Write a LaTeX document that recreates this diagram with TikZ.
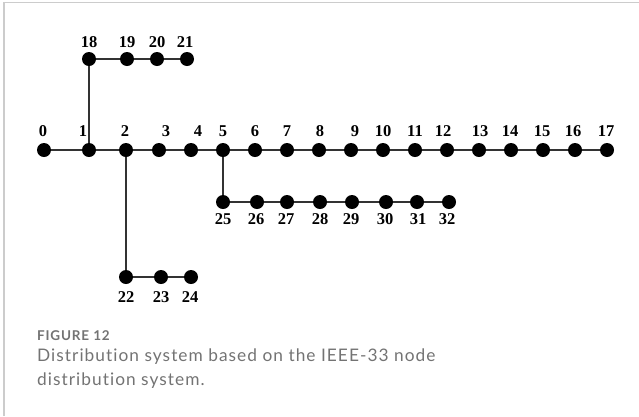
\documentclass[tikz,border=0pt]{standalone}
\usepackage{fontspec}
\setmainfont{Liberation Serif}
\newfontfamily\capfont[LetterSpace=6,Ligatures=NoCommon]{Lato}
\begin{document}
\begin{tikzpicture}[x=1pt,y=-1pt,
  bus/.style={circle,fill=black,inner sep=0pt,minimum size=14pt},
  tag/.style={anchor=base,inner sep=0pt,font=\fontsize{16.5}{17}\selectfont\bfseries},
  line/.style={draw=black!80,line width=1.5pt},
  frameline/.style={draw=black!20,line width=1.2pt},
  captext/.style={anchor=base west,inner sep=0pt,text=black!55}]
\useasboundingbox (0,0) rectangle (639,416);
% card frame
\coordinate (fa) at (4,416);
\coordinate (fb) at (4,2.5);
\coordinate (fc) at (639,2.5);
\draw[frameline] (fa) -- (fb) -- (fc);
% main feeder 0-17
\foreach \n/\x/\lx in {0/44/43,1/89/83,2/126/125,3/159/166,4/191/198,5/223/223,6/255/255,7/287/287,8/319/320,9/351/355,10/383/383,11/415/415,12/447/443,13/479/480,14/511/510,15/543/542,16/575/573,17/607/606}{
  \node[bus] (b\n) at (\x,150) {};
  \node[tag] (l\n) at (\lx,136.5) {\n};
}
% lateral 18-21
\foreach \n/\x/\lx in {18/89/89,19/127/127,20/157/157,21/187/185}{
  \node[bus] (b\n) at (\x,59) {};
  \node[tag] (l\n) at (\lx,47.5) {\n};
}
% lateral 22-24
\foreach \n/\x/\lx in {22/126/126,23/161/161,24/191/190}{
  \node[bus] (b\n) at (\x,277) {};
  \node[tag] (l\n) at (\lx,302.5) {\n};
}
% lateral 25-32
\foreach \n/\x/\lx in {25/223/223,26/257/256,27/287/286,28/320/320,29/352/351,30/386/385,31/417/418,32/449/447}{
  \node[bus] (b\n) at (\x,202) {};
  \node[tag] (l\n) at (\lx,224.5) {\n};
}
% branches
\foreach \a/\b in {0/1,1/2,2/3,3/4,4/5,5/6,6/7,7/8,8/9,9/10,10/11,11/12,12/13,13/14,14/15,15/16,16/17,
  18/19,19/20,20/21,22/23,23/24,25/26,26/27,27/28,28/29,29/30,30/31,31/32,1/18,2/22,5/25}{
  \draw[line] (b\a) -- (b\b);
}
% caption
\node[captext,font=\capfont\bfseries\fontsize{13.5}{13.5}\selectfont] (cap) at (37,340) {FIGURE 12};
\node[captext,font=\capfont\fontsize{17.3}{17.3}\selectfont] (capa) at (37,361) {Distribution system based on the IEEE-33 node};
\node[captext,font=\capfont\fontsize{17.3}{17.3}\selectfont] (capb) at (37,385) {distribution system.};
\end{tikzpicture}
\end{document}
